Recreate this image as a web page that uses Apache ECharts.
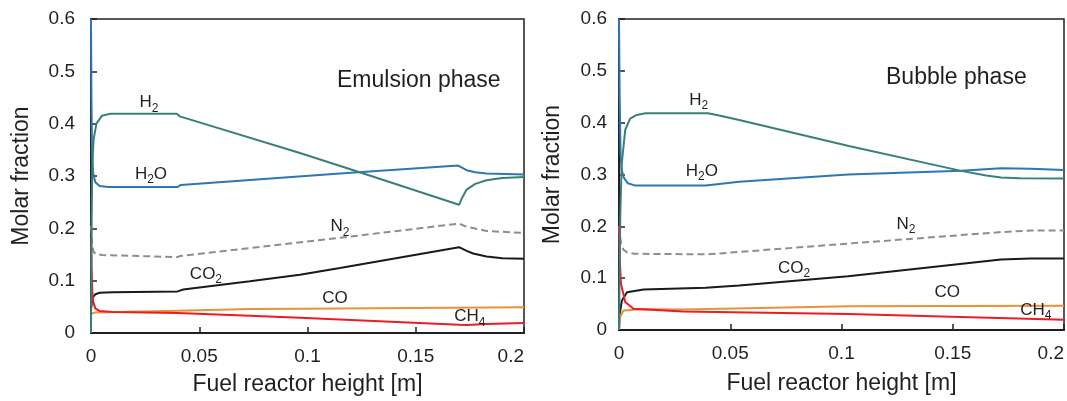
<!DOCTYPE html>
<html>
<head>
<meta charset="utf-8">
<script src="https://cdn.jsdelivr.net/npm/echarts/dist/echarts.min.js"></script>
<style>
  html, body { margin: 0; padding: 0; background: #fff; }
  #chart { width: 1067px; height: 401px; }
</style>
</head>
<body>
<div id="chart"></div>
<script>
// ---------- data (x = fuel reactor height [m], y = molar fraction) ----------
const xTickLabels = ['0', '0.05', '0.1', '0.15', '0.2'];
const yTickLabels = ['0', '0.1', '0.2', '0.3', '0.4', '0.5', '0.6'];
const speciesNames = ['H2', 'H2O', 'N2', 'CO2', 'CO', 'CH4'];
const panelTitles = ['Emulsion phase', 'Bubble phase'];

// Emulsion phase
const emulsionH2 = [[0,0],[0.0003,0.22],[0.0006,0.32],[0.0012,0.37],[0.0025,0.40],[0.005,0.415],[0.009,0.419],[0.0396,0.419],[0.041,0.414],[0.0965,0.344],[0.1234,0.308],[0.170,0.245],[0.1715,0.259],[0.1735,0.274],[0.1775,0.285],[0.1827,0.292],[0.19,0.296],[0.2,0.298]];
const emulsionH2O = [[0,0.6],[0.0002,0.45],[0.0005,0.34],[0.001,0.305],[0.002,0.288],[0.004,0.281],[0.008,0.279],[0.040,0.279],[0.0415,0.283],[0.115,0.305],[0.1696,0.320],[0.1735,0.311],[0.1775,0.307],[0.1827,0.305],[0.2,0.303]];
const emulsionN2 = [[0,0.205],[0.0005,0.17],[0.001,0.157],[0.002,0.151],[0.005,0.149],[0.040,0.145],[0.041,0.147],[0.115,0.182],[0.170,0.209],[0.1735,0.203],[0.1827,0.195],[0.2,0.191]];
const emulsionCO2 = [[0,0.045],[0.0005,0.062],[0.001,0.069],[0.002,0.074],[0.004,0.077],[0.01,0.078],[0.040,0.0795],[0.0426,0.083],[0.0734,0.0987],[0.0965,0.1115],[0.115,0.124],[0.170,0.164],[0.1735,0.157],[0.1765,0.152],[0.1827,0.146],[0.19,0.143],[0.2,0.142]];
const emulsionCO = [[0,0.037],[0.002,0.039],[0.040,0.0425],[0.0734,0.046],[0.0965,0.0465],[0.15,0.048],[0.2,0.049]];
const emulsionCH4 = [[0,0.18],[0.0003,0.12],[0.0006,0.08],[0.001,0.06],[0.002,0.047],[0.004,0.042],[0.01,0.040],[0.040,0.038],[0.0734,0.033],[0.0965,0.029],[0.170,0.016],[0.1735,0.0155],[0.1827,0.017],[0.2,0.019]];

// Bubble phase
const bubbleH2 = [[0,0],[0.0003,0.12],[0.0006,0.225],[0.0012,0.32],[0.0028,0.386],[0.005,0.408],[0.008,0.415],[0.012,0.418],[0.040,0.418],[0.045,0.414],[0.054,0.405],[0.1033,0.355],[0.1538,0.307],[0.165,0.298],[0.1717,0.294],[0.18,0.293],[0.2,0.2925]];
const bubbleH2O = [[0,0.6],[0.0003,0.45],[0.0007,0.34],[0.0012,0.31],[0.002,0.295],[0.004,0.283],[0.007,0.279],[0.039,0.279],[0.054,0.286],[0.103,0.300],[0.1538,0.307],[0.1717,0.312],[0.185,0.311],[0.2,0.3085]];
const bubbleN2 = [[0,0.2],[0.0005,0.18],[0.001,0.165],[0.002,0.155],[0.0035,0.150],[0.007,0.147],[0.040,0.146],[0.103,0.1667],[0.172,0.189],[0.185,0.192],[0.2,0.192]];
const bubbleCO2 = [[0,0],[0.0003,0.03],[0.0013,0.057],[0.0036,0.073],[0.011,0.078],[0.039,0.0816],[0.054,0.086],[0.103,0.1035],[0.1717,0.136],[0.185,0.138],[0.2,0.138]];
const bubbleCO = [[0,0],[0.0005,0.025],[0.002,0.0377],[0.01,0.040],[0.0288,0.0397],[0.103,0.046],[0.2,0.047]];
const bubbleCH4 = [[0,0.2],[0.0003,0.14],[0.0009,0.089],[0.0028,0.054],[0.0065,0.041],[0.0288,0.0358],[0.103,0.031],[0.2,0.020]];

// curve label anchors (data coordinates)
const emulsionLabelAt = { H2:[0.0268,0.440], H2O:[0.0277,0.303], N2:[0.115,0.203], CO2:[0.0531,0.113], CO:[0.1127,0.067], CH4:[0.175,0.031] };
const bubbleLabelAt   = { H2:[0.0358,0.444], H2O:[0.0372,0.306], N2:[0.129,0.204], CO2:[0.0787,0.119], CO:[0.1475,0.0725], CH4:[0.1873,0.0377] };

// ---------- styling ----------
const FONT = '"Liberation Sans", Arial, Helvetica, sans-serif';
const TXT = '#231f20';
const colors = { H2:'#3b8077', H2O:'#2d77b2', N2:'#8e8e8e', CO2:'#1a1a1a', CO:'#e8923a', CH4:'#ec1c24' };
const labelRich = {
  H2: '{m|H}{s|2}', H2O: '{m|H}{s|2}{m|O}', N2: '{m|N}{s|2}',
  CO2: '{m|CO}{s|2}', CO: '{m|CO}', CH4: '{m|CH}{s|4}'
};
const rich = {
  m: { fontSize: 17, fontFamily: FONT, color: TXT, lineHeight: 23 },
  s: { fontSize: 12, fontFamily: FONT, color: TXT, verticalAlign: 'bottom', lineHeight: 12 }
};

const panels = [
  { data: { H2: emulsionH2, H2O: emulsionH2O, N2: emulsionN2, CO2: emulsionCO2, CO: emulsionCO, CH4: emulsionCH4 },
    labels: emulsionLabelAt,
    grid: { left: 91, top: 19, right: 543, bottom: 68 }, yLabelMargin: 16, yNameGap: 58, xNameGap: 40,
    title: { left: 337, top: 69 } },
  { data: { H2: bubbleH2, H2O: bubbleH2O, N2: bubbleN2, CO2: bubbleCO2, CO: bubbleCO, CH4: bubbleCH4 },
    labels: bubbleLabelAt,
    grid: { left: 619, top: 19, right: 3, bottom: 71 }, yLabelMargin: 12, yNameGap: 55, xNameGap: 42,
    title: { left: 886, top: 66 } }
];

const grids = [], xAxes = [], yAxes = [], series = [], titles = [];
panels.forEach((p, gi) => {
  grids.push(Object.assign({ show: true, borderColor: TXT, borderWidth: 1.5, backgroundColor: 'transparent' }, p.grid));
  xAxes.push({
    type: 'value', gridIndex: gi, min: 0, max: 0.2, interval: 0.05,
    name: 'Fuel reactor height [m]', nameLocation: 'middle', nameGap: p.xNameGap,
    nameTextStyle: { fontSize: 23, fontFamily: FONT, color: TXT },
    axisLine: { show: true, onZero: false, lineStyle: { color: TXT, width: 2 } },
    axisTick: { show: true, inside: true, length: 6, lineStyle: { color: TXT, width: 1.5 } },
    axisLabel: { fontSize: 19, fontFamily: FONT, color: TXT, margin: 14, alignMaxLabel: 'right',
      formatter: v => xTickLabels[Math.round(v / 0.05)] },
    splitLine: { show: false }
  });
  yAxes.push({
    type: 'value', gridIndex: gi, min: 0, max: 0.6, interval: 0.1,
    name: 'Molar fraction', nameLocation: 'middle', nameGap: p.yNameGap, nameRotate: 90,
    nameTextStyle: { fontSize: 23, fontFamily: FONT, color: TXT },
    axisLine: { show: true, onZero: false, lineStyle: { color: TXT, width: 2 } },
    axisTick: { show: true, inside: true, length: 6, lineStyle: { color: TXT, width: 1.5 } },
    axisLabel: { fontSize: 19, fontFamily: FONT, color: TXT, margin: p.yLabelMargin,
      formatter: v => yTickLabels[Math.round(v / 0.1)] },
    splitLine: { show: false }
  });
  titles.push({ text: panelTitles[gi], left: p.title.left, top: p.title.top, padding: 0,
    textStyle: { fontSize: 23, fontWeight: 'normal', fontFamily: FONT, color: TXT } });
  speciesNames.forEach(name => {
    series.push({
      type: 'line', name: name + (gi ? ' bubble' : ' emulsion'),
      xAxisIndex: gi, yAxisIndex: gi, data: p.data[name],
      showSymbol: false, symbol: 'none', animation: false, z: name === 'H2' ? 3 : 2,
      lineStyle: { color: colors[name], width: 2, type: name === 'N2' ? [7, 4] : 'solid' },
      itemStyle: { color: colors[name] },
      markPoint: {
        silent: true, symbol: 'circle', symbolSize: 0, animation: false,
        label: { show: true, position: 'inside', formatter: labelRich[name], rich: rich },
        data: [{ coord: p.labels[name] }]
      }
    });
  });
});

const chart = echarts.init(document.getElementById('chart'), null, { renderer: 'canvas' });
chart.setOption({
  animation: false,
  backgroundColor: '#fff',
  title: titles,
  grid: grids,
  xAxis: xAxes,
  yAxis: yAxes,
  series: series
});
</script>
</body>
</html>
